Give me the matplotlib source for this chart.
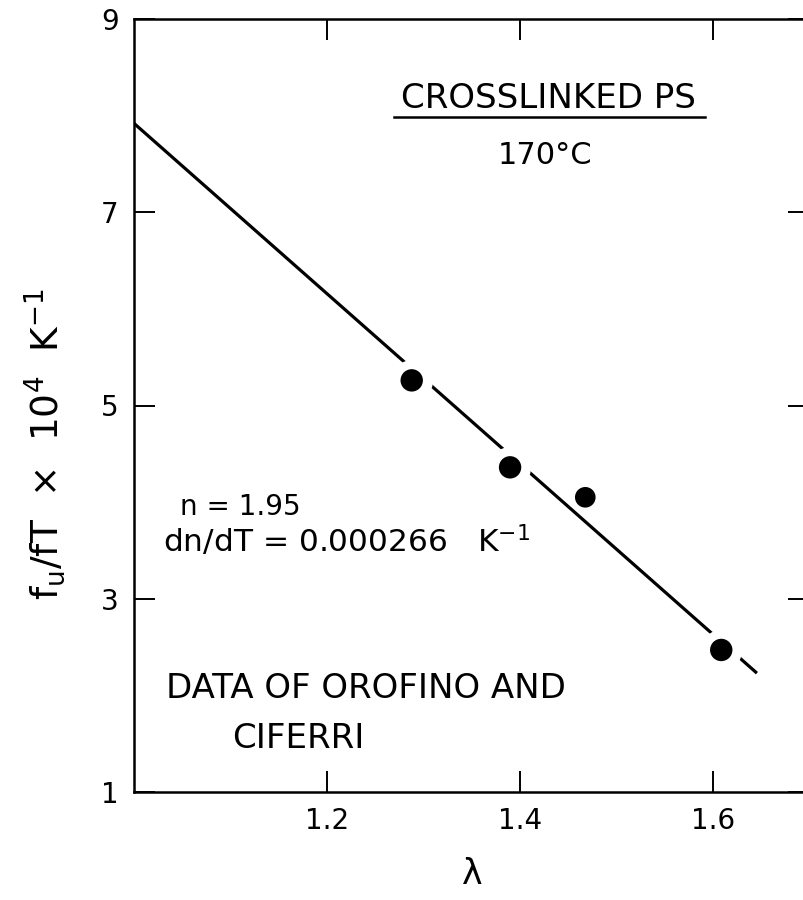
import numpy as np
import matplotlib
matplotlib.use('Agg')
import matplotlib.pyplot as plt

plt.rcParams['font.family'] = ['DejaVu Sans']
plt.rcParams['mathtext.default'] = 'regular'

# data
lam = np.array([1.288, 1.390, 1.468, 1.609])
fu_ft = np.array([5.26, 4.36, 4.05, 2.47])
fit_x = [1.0, 1.646]
fit_y = [7.92, 2.23]
xticks = [1.2, 1.4, 1.6]
yticks = [1, 3, 5, 7, 9]

fig = plt.figure(figsize=(8.04, 9), dpi=100)
ax = fig.add_axes([134/804, 108/900, 675/804, 773/900])

ax.plot(fit_x, fit_y, color='black', lw=2.3, zorder=1, solid_capstyle='butt')
# white halos break the line around the points (not the third one)
halo = [0, 1, 3]
ax.scatter(lam[halo], fu_ft[halo], s=880, color='white', zorder=2, linewidths=0)
ax.scatter(lam, fu_ft, s=[260, 260, 220, 260], color='black', zorder=3, linewidths=0)

ax.set_xlim(1.0, 1.70)
ax.set_ylim(1, 9)
ax.set_xticks(xticks)
ax.set_xticklabels(['1.2', '1.4', '1.6'])
ax.set_yticks(yticks)
ax.set_yticklabels(['1', '3', '5', '7', '9'])
ax.tick_params(direction='in', length=15, width=1.4, labelsize=20, pad=11,
               top=True, right=True)
for s in ax.spines.values():
    s.set_linewidth(1.8)

ax.set_xlabel(r'$\lambda$', fontsize=25, labelpad=16)
ax.set_ylabel('f$_u$/fT  ×  10$^4$  K$^{-1}$', fontsize=27)
ax.yaxis.set_label_coords(-0.098, 0.45)

ax.text(1.430, 8.18, 'CROSSLINKED PS', fontsize=24.5, ha='center', va='center')
ax.plot([1.270, 1.592], [7.99, 7.99], color='black', lw=1.8)
ax.text(1.426, 7.59, '170°C', fontsize=22, ha='center', va='center')

ax.text(1.048, 3.87, 'n = 1.95', fontsize=20, ha='left', va='baseline')
ax.text(1.030, 3.48, 'dn/dT = 0.000266   K$^{-1}$', fontsize=22.5, ha='left', va='baseline')

ax.text(1.033, 1.97, 'DATA OF OROFINO AND', fontsize=24.5, ha='left', va='baseline')
ax.text(1.102, 1.46, 'CIFERRI', fontsize=24.5, ha='left', va='baseline')

fig.savefig('out.png', dpi=100)
